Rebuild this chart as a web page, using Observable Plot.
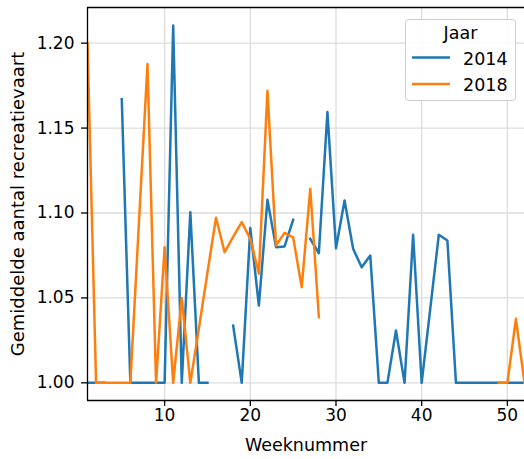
<!DOCTYPE html>
<html>
<head>
<meta charset="utf-8">
<script src="https://cdn.jsdelivr.net/npm/d3@7"></script>
<script src="https://cdn.jsdelivr.net/npm/@observablehq/plot@0.6"></script>
<style>
  body { margin: 0; background: #fff; font-family: "DejaVu Sans", sans-serif; }
  #wrap { position: relative; width: 524px; height: 459px; overflow: hidden; }
  #legend { position: absolute; left: 405px; top: 19px; width: 111px; height: 82px;
            box-sizing: border-box; border: 1px solid #d0d0d0; border-radius: 4px;
            background: rgba(255,255,255,0.85); }
  #legend svg { position: absolute; left: -1px; top: -1px; overflow: visible; }
</style>
</head>
<body>
<div id="wrap"></div>
<script>
const weeks = d3.range(1, 53);

const rec2014 = [
  1.000, 1.000, 1.000, null, 1.167, 1.000, 1.000, 1.000, 1.000, 1.000,
  1.2104, 1.000, 1.1005, 1.000, 1.000, null, null, 1.0337, 1.000, 1.0911,
  1.0455, 1.1078, 1.0799, 1.0803, 1.096, null, 1.0848, 1.0763, 1.1594, 1.0793,
  1.1074, 1.0789, 1.068, 1.075, 1.000, 1.000, 1.0308, 1.000, 1.0872, 1.000,
  1.0436, 1.0872, 1.0838, 1.000, 1.000, 1.000, 1.000, 1.000, 1.000, 1.000,
  1.000, 1.000
];

const rec2018 = [
  1.200, 1.000, 1.000, 1.000, 1.000, 1.000, 1.094, 1.1877, 1.000, 1.0799,
  1.000, 1.050, 1.000, 1.032, 1.065, 1.0972, 1.0769, 1.086, 1.0946, 1.0848,
  1.0642, 1.172, 1.0809, 1.0883, 1.0857, 1.0563, 1.1143, 1.0387, null, null,
  null, null, null, null, null, null, null, null, null, null,
  null, null, null, null, null, null, null, null, 1.000, 1.000,
  1.0377, 1.000
];

const seriesNames = ["2014", "2018"];
const seriesColors = ["#1f77b4", "#ff7f0e"];
const legendTitle = "Jaar";
const xLabel = "Weeknummer";
const yLabel = "Gemiddelde aantal recreatievaart";
const xTicks = [10, 20, 30, 40, 50];
const yTicks = [1.00, 1.05, 1.10, 1.15, 1.20];
const xDomain = [1, 52];
const yDomain = [0.9896, 1.221];

const seriesValues = [rec2014, rec2018];
const FS = 17;

const lineMarks = seriesValues.map((vals, s) =>
  Plot.line(weeks, {
    x: d => d,
    y: (d, i) => vals[i],
    stroke: seriesColors[s],
    strokeWidth: 2.5,
    strokeLinejoin: "round",
    strokeLinecap: "square",
    clip: true
  })
);

const chart = Plot.plot({
  width: 524,
  height: 459,
  marginLeft: 87,
  marginRight: 0,
  marginTop: 7,
  marginBottom: 59,
  x: { type: "linear", domain: xDomain },
  y: { type: "linear", domain: yDomain },
  style: { fontFamily: "DejaVu Sans, sans-serif", fontSize: FS + "px", color: "#000", background: "#fff" },
  marks: [
    Plot.gridX(xTicks, { stroke: "#dddddd", strokeOpacity: 1, strokeWidth: 1.3 }),
    Plot.gridY(yTicks, { stroke: "#dddddd", strokeOpacity: 1, strokeWidth: 1.3 }),
    ...lineMarks,
    Plot.ruleX([xDomain[0]], { stroke: "#000", strokeWidth: 1.3 }),
    Plot.ruleY([yDomain[0]], { stroke: "#000", strokeWidth: 1.3 }),
    Plot.ruleY([yDomain[1]], { stroke: "#000", strokeWidth: 1.3 }),
    Plot.axisX(xTicks, { tickSize: 6, tickPadding: 2, fontSize: FS, label: null, strokeWidth: 1.3 }),
    Plot.axisY(yTicks, { tickSize: 6, tickPadding: 7, fontSize: FS, label: null, strokeWidth: 1.3, tickFormat: d3.format(".2f") }),
    Plot.text([xLabel], { frameAnchor: "bottom", textAnchor: "middle", lineAnchor: "middle", dy: 45, fontSize: 17.5, fill: "#000" }),
    Plot.text([yLabel], { frameAnchor: "left", textAnchor: "middle", lineAnchor: "middle", rotate: -90, dx: -69.5, fontSize: 18, fill: "#000" })
  ]
});

const wrap = document.getElementById("wrap");
wrap.appendChild(chart);

// Legend
const legend = document.createElement("div");
legend.id = "legend";
const ns = "http://www.w3.org/2000/svg";
const lsvg = document.createElementNS(ns, "svg");
lsvg.setAttribute("width", 111);
lsvg.setAttribute("height", 82);
lsvg.style.fontFamily = "DejaVu Sans, sans-serif";
lsvg.style.fontSize = "17.5px";
const title = document.createElementNS(ns, "text");
title.setAttribute("x", 55.5);
title.setAttribute("y", 19.5);
title.setAttribute("text-anchor", "middle");
title.textContent = legendTitle;
lsvg.appendChild(title);
seriesNames.forEach((name, i) => {
  const yy = 38.5 + i * 26.5;
  const ln = document.createElementNS(ns, "line");
  ln.setAttribute("x1", 7); ln.setAttribute("x2", 45);
  ln.setAttribute("y1", yy); ln.setAttribute("y2", yy);
  ln.setAttribute("stroke", seriesColors[i]);
  ln.setAttribute("stroke-width", 2.5);
  lsvg.appendChild(ln);
  const t = document.createElementNS(ns, "text");
  t.setAttribute("x", 58);
  t.setAttribute("y", yy + 7);
  t.textContent = name;
  lsvg.appendChild(t);
});
legend.appendChild(lsvg);
wrap.appendChild(legend);
</script>
</body>
</html>
